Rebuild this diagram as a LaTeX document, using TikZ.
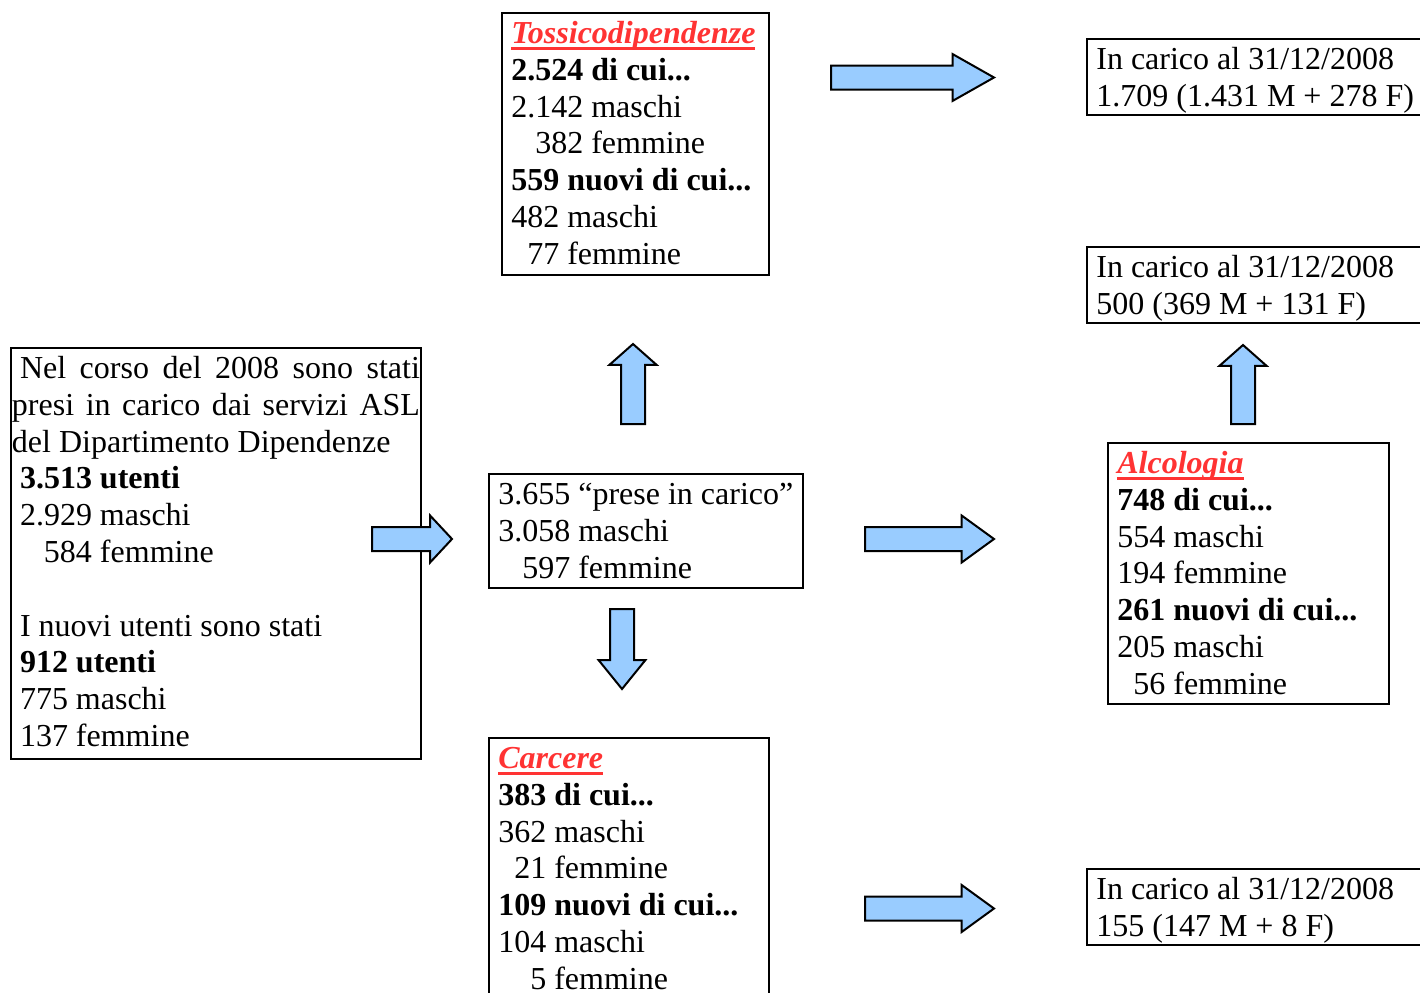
\documentclass[tikz,border=0pt]{standalone}
\usepackage{fontspec}
\setmainfont{Liberation Serif}
\usetikzlibrary{shapes.arrows}
\definecolor{rosso}{HTML}{FF3333}
\definecolor{azzurro}{HTML}{99CCFF}
\newcommand{\titolo}[1]{{\color{rosso}\bfseries\itshape\sbox0{#1}\rlap{\rule[-5.25pt]{\wd0}{2.25pt}}\usebox0}}
\newcommand{\riquadro}[3]{\parbox[t][#2][t]{#1}{\fontsize{24}{27.6}\selectfont\raggedright\strut#3}}
\begin{document}
\begin{tikzpicture}
[
    x=0.75pt, y=-0.75pt,
    riq/.style={draw, line width=1.5pt, anchor=north west, inner xsep=7pt, inner ysep=3.5pt},
    freccia/.style={single arrow, draw, fill=azzurro, line width=1.5pt, inner xsep=0pt, inner ysep=8.25pt,
        minimum width=33.75pt, single arrow head extend=8.6pt, anchor=tail},
]
\useasboundingbox (0,0) rectangle (1420,992);
\clip (0,0) rectangle (1420,992);
\node[riq] (tox) at (501,12) {\riquadro{186.25pt}{189.5pt}{%
    \titolo{Tossicodipendenze}\\
    \textbf{2.524 di cui...}\\
    2.142 maschi\\
    \phantom{2.}382 femmine\\
    \textbf{559 nuovi di cui...}\\
    482 maschi\\
    \phantom{4}77 femmine}};
\node[riq, inner xsep=0.75pt] (nel) at (10,347) {\riquadro{306pt}{301.25pt}{%
    \hspace*{6pt}\makebox[300pt][s]{Nel corso del 2008 sono stati}\\
    \makebox[306pt][s]{presi in carico dai servizi ASL}\\
    del Dipartimento Dipendenze\\
    \hspace*{6pt}\textbf{3.513 utenti}\\
    \hspace*{6pt}2.929 maschi\\
    \hspace*{6pt}\phantom{2.}584 femmine\\
    \mbox{}\\
    \hspace*{6pt}I nuovi utenti sono stati\\
    \hspace*{6pt}\textbf{912 utenti}\\
    \hspace*{6pt}775 maschi\\
    \hspace*{6pt}137 femmine}};
\node[riq] (prese) at (488,473) {\riquadro{221.5pt}{78.5pt}{%
    3.655~“prese~in~carico”\\
    3.058 maschi\\
    \phantom{3.}597 femmine}};
\node[riq] (car) at (488,737) {\riquadro{196pt}{210.5pt}{%
    \titolo{Carcere}\\
    \textbf{383 di cui...}\\
    362 maschi\\
    \phantom{3}21 femmine\\
    \textbf{109 nuovi di cui...}\\
    104 maschi\\
    \phantom{10}5 femmine}};
\node[riq] (alc) at (1107,442) {\riquadro{196.75pt}{188.75pt}{%
    \titolo{Alcologia}\\
    \textbf{748 di cui...}\\
    554 maschi\\
    194 femmine\\
    \textbf{261 nuovi di cui...}\\
    205 maschi\\
    \phantom{2}56 femmine}};
\node[riq] (fineTox) at (1086,38) {\riquadro{256pt}{50pt}{%
    In carico al 31/12/2008\\
    1.709 (1.431 M + 278 F)}};
\node[riq] (fineAlc) at (1086,246) {\riquadro{256pt}{50pt}{%
    In carico al 31/12/2008\\
    500 (369 M + 131 F)}};
\node[riq] (fineCar) at (1086,868) {\riquadro{256pt}{50pt}{%
    In carico al 31/12/2008\\
    155 (147 M + 8 F)}};
\node[freccia, minimum height=122.25pt, single arrow tip angle=59] (fTox) at (830,77.5) {};
\node[freccia, minimum height=60pt, single arrow tip angle=94] (fIn) at (371,539) {};
\node[freccia, minimum height=96.75pt, single arrow tip angle=72] (fAlc) at (864,539) {};
\node[freccia, minimum height=96.75pt, single arrow tip angle=72] (fCar) at (864,908.5) {};
\node[freccia, rotate=90, minimum height=60pt, single arrow tip angle=97] (fSu) at (633,425) {};
\node[freccia, rotate=-90, minimum height=60pt, single arrow tip angle=78] (fGiu) at (622,608) {};
\node[freccia, rotate=90, minimum height=59.25pt, single arrow tip angle=97] (fSuAlc) at (1243,425) {};
\end{tikzpicture}
\end{document}
